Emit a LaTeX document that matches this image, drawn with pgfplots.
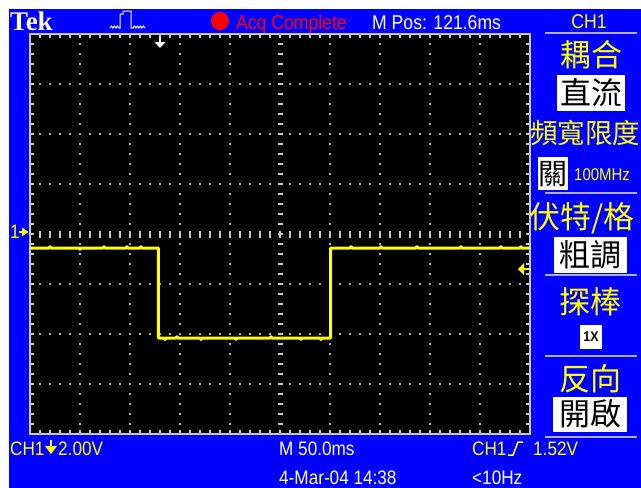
\documentclass[border=0pt]{standalone}
\usepackage{fontspec}
\usepackage{pgfplots}
\pgfplotsset{compat=1.18}
\setmainfont{Liberation Sans}
\newfontfamily\ui{Liberation Sans}[FakeStretch=0.88]
\newfontfamily\tek{Liberation Serif}
\newfontfamily\cjk{Noto Sans CJK TC}
\definecolor{scopeblue}{RGB}{0,0,255}
\definecolor{scopeyellow}{RGB}{255,255,0}
\definecolor{gridgray}{RGB}{175,175,175}
\definecolor{bordergray}{RGB}{200,200,200}
\definecolor{sepcol}{RGB}{175,175,230}
\definecolor{acqred}{RGB}{255,0,0}
\begin{document}
\begin{tikzpicture}
\begin{scope}[x=1pt,y=-1pt]
\fill[white] (0,0) rectangle (641,488);
\fill[scopeblue] (9,9) rectangle (641,488);
\end{scope}
\begin{axis}[at={(30pt,-434pt)}, anchor=south west,
  width=500pt, height=400pt, scale only axis,
  xmin=0, xmax=500, ymin=-8, ymax=8,
  xtick={0,50,...,500}, ytick={-8,-6,...,8},
  xticklabels={}, yticklabels={},
  minor x tick num=4, minor y tick num=4,
  tick align=inside, tick pos=both,
  major tick length=4pt, minor tick length=4pt,
  tick style={bordergray, line width=1.2pt},
  axis line style={bordergray, line width=2pt},
  axis background/.style={fill=black},
  grid=major,
  major grid style={gridgray, line width=1.6pt, dash pattern=on 1.6pt off 8.4pt, dash phase=0.8pt}]
\draw[bordergray, line width=5pt, dash pattern=on 1.8pt off 8.2pt, dash phase=0.9pt] (axis cs:250,-8) -- (axis cs:250,8);
\draw[bordergray, line width=7pt, dash pattern=on 2pt off 8pt, dash phase=1pt] (axis cs:0,0) -- (axis cs:500,0);
\addplot[scopeyellow, line width=3pt, line join=round] coordinates {
 (0,-0.56) (19,-0.56) (20,-0.51) (21,-0.56) (49,-0.56) (50,-0.61) (51,-0.56)
 (73,-0.56) (74,-0.51) (75,-0.56) (96,-0.56) (97,-0.51) (98,-0.56) (110,-0.56) (111,-0.51) (112,-0.56) (128.3,-0.56)
 (128.3,-4.16) (134,-4.16) (135,-4.22) (136,-4.16) (146,-4.16) (147,-4.11) (148,-4.16)
 (170,-4.16) (171,-4.22) (172,-4.16) (205,-4.16) (206,-4.21) (207,-4.16) (240,-4.16) (241,-4.11) (242,-4.16)
 (270,-4.16) (271,-4.21) (272,-4.16) (290,-4.16) (291,-4.22) (292,-4.16) (300.7,-4.16)
 (300.7,-0.56) (320,-0.56) (321,-0.51) (322,-0.56) (350,-0.56) (351,-0.51) (352,-0.56) (386,-0.56) (387,-0.51) (388,-0.56)
 (430,-0.56) (431,-0.51) (432,-0.56) (470,-0.56) (471,-0.51) (472,-0.56) (490,-0.56) (491,-0.51) (492,-0.56) (500,-0.56)};
\end{axis}
\begin{scope}[x=1pt,y=-1pt]
\useasboundingbox (0,0) rectangle (641,488);
\clip (0,0) rectangle (641,488);
% top bar
\node[anchor=base west, inner sep=0, text=white, font=\tek\bfseries\fontsize{27}{27}\selectfont] at (10,30) {Tek};
\draw[white, line width=1pt] (110,28) -- (111.5,26) -- (113,28) -- (114.5,26) -- (116,28) -- (117.5,26) -- (119,28)
  -- (120,28) -- (120,14) -- (123,14) -- (123,11) -- (131,11) -- (131,28) -- (133,28) -- (134.5,26) -- (136,28)
  -- (137.5,26) -- (139,28) -- (140.5,26) -- (142,28) -- (143.5,26) -- (145,28);
\fill[acqred] (220,21) circle (9);
\node[anchor=base west, inner sep=0, text=acqred, font=\ui\fontsize{20}{20}\selectfont] at (236,29) {Acq Complete};
\node[anchor=base west, inner sep=0, text=white, font=\ui\fontsize{20}{20}\selectfont] at (372,29) {M Pos: 121.6ms};
\node[anchor=base, inner sep=0, text=scopeyellow, font=\ui\fontsize{20}{20}\selectfont] at (589,28) {CH1};
% trigger position marker
\draw[white, line width=2.5pt] (160,37) -- (160,43);
\fill[white] (154.5,42) -- (165.5,42) -- (160,48) -- cycle;
% ground marker
\node[anchor=base west, inner sep=0, text=scopeyellow, font=\ui\fontsize{19.5}{20}\selectfont] at (10,238) {1};
\draw[scopeyellow, line width=1.5pt] (19,232) -- (24,232);
\fill[scopeyellow] (22,227.5) -- (28.5,232) -- (22,236.5) -- cycle;
% trigger level marker
\fill[scopeyellow] (518,269) -- (524,263) -- (524,275) -- cycle;
\draw[scopeyellow, line width=2.5pt] (523,269) -- (530,269);
% separators
\foreach \yy in {33,193,275,356,437} \draw[sepcol, line width=2pt] (545,\yy) -- (637,\yy);
% menu
\node[text=scopeyellow, inner sep=0, font=\cjk\fontsize{31}{31}\selectfont] at (591,55) {耦合};
\fill[white] (557,75) rectangle (625,111);
\node[text=black, inner sep=0, font=\cjk\fontsize{31}{31}\selectfont] at (591,93) {直流};
\node[anchor=west, text=scopeyellow, inner sep=0, font=\cjk\fontsize{27.5}{28}\selectfont] at (530,133) {頻寬限度};
\fill[white] (538,157) rectangle (568,190);
\node[text=black, inner sep=0, font=\cjk\fontsize{29}{29}\selectfont] at (553,174) {關};
\node[anchor=west, text=scopeyellow, inner sep=0, font=\ui\fontsize{17}{17}\selectfont] at (574,175) {100MHz};
\node[anchor=west, text=scopeyellow, inner sep=0, font=\cjk\fontsize{31}{31}\selectfont] at (529,218) {伏特/格};
\fill[white] (554,237) rectangle (627,273);
\node[text=black, inner sep=0, font=\cjk\fontsize{31}{31}\selectfont] at (590,255) {粗調};
\node[text=scopeyellow, inner sep=0, font=\cjk\fontsize{31}{31}\selectfont] at (590,302) {探棒};
\fill[white] (580,325) rectangle (602,349);
\node[text=black, inner sep=0, font=\ui\bfseries\fontsize{14}{14}\selectfont] at (591,337) {1X};
\node[text=scopeyellow, inner sep=0, font=\cjk\fontsize{31}{31}\selectfont] at (590,379) {反向};
\fill[white] (553,397) rectangle (627,432);
\node[text=black, inner sep=0, font=\cjk\fontsize{31}{31}\selectfont] at (590,414) {開啟};
% bottom bar
\node[anchor=base west, inner sep=0, text=scopeyellow, font=\ui\fontsize{19.5}{20}\selectfont] at (10,455) {CH1};
\draw[scopeyellow, line width=2.5pt] (51,440) -- (51,447);
\fill[scopeyellow] (45,446) -- (57,446) -- (51,454) -- cycle;
\node[anchor=base west, inner sep=0, text=scopeyellow, font=\ui\fontsize{19.5}{20}\selectfont] at (58,455) {2.00V};
\node[anchor=base west, inner sep=0, text=white, font=\ui\fontsize{19.5}{20}\selectfont] at (279,455) {M 50.0ms};
\node[anchor=base west, inner sep=0, text=scopeyellow, font=\ui\fontsize{19.5}{20}\selectfont] at (472,455) {CH1};
\draw[scopeyellow, line width=1.5pt] (508,455) -- (513,455) -- (518,442) -- (523,442);
\node[anchor=base west, inner sep=0, text=scopeyellow, font=\ui\fontsize{19.5}{20}\selectfont] at (533,455) {1.52V};
\node[anchor=base west, inner sep=0, text=white, font=\ui\fontsize{19.5}{20}\selectfont] at (279,484) {4-Mar-04 14:38};
\node[anchor=base west, inner sep=0, text=white, font=\ui\fontsize{19.5}{20}\selectfont] at (472,484) {<10Hz};
\end{scope}
\end{tikzpicture}
\end{document}
